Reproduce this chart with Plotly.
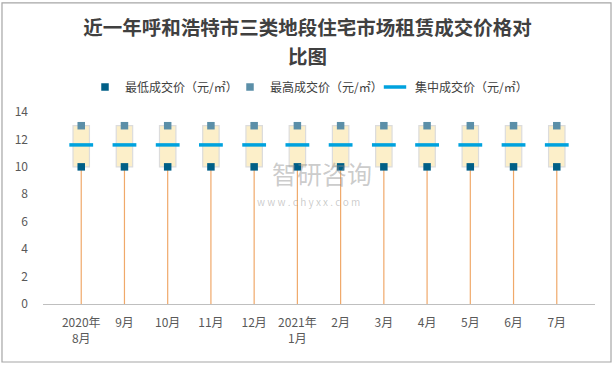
import plotly.graph_objects as go

months = ["2020年<br>8月", "9月", "10月", "11月", "12月", "2021年<br>1月",
          "2月", "3月", "4月", "5月", "6月", "7月"]
low = [10, 10, 10, 10, 10, 10, 10, 10, 10, 10, 10, 10]
high = [13, 13, 13, 13, 13, 13, 13, 13, 13, 13, 13, 13]
mid = [11.6, 11.6, 11.6, 11.6, 11.6, 11.6, 11.6, 11.6, 11.6, 11.6, 11.6, 11.6]
yticks = [0, 2, 4, 6, 8, 10, 12, 14]
title_line1 = "近一年呼和浩特市三类地段住宅市场租赁成交价格对"
title_line2 = "比图"

font = "Noto Sans CJK SC"
fig = go.Figure()

# drop lines from 0 to low
dx, dy = [], []
for m, l in zip(months, low):
    dx += [m, m, None]
    dy += [0, l, None]
fig.add_trace(go.Scatter(x=dx, y=dy, mode="lines", line=dict(color="#f0a96a", width=1.2),
                         showlegend=False, hoverinfo="skip"))

# box (high-low range)
fig.add_trace(go.Bar(x=months, y=[h - l for h, l in zip(high, low)], base=low, width=0.38,
                     marker=dict(color="#fcefc9", line=dict(color="#dcdcdc", width=1.2)),
                     showlegend=False, hoverinfo="skip"))

fig.add_trace(go.Scatter(x=months, y=low, mode="markers", name="最低成交价（元/㎡）",
                         marker=dict(symbol="square", size=7.5, color="#005f87")))
fig.add_trace(go.Scatter(x=months, y=high, mode="markers", name="最高成交价（元/㎡）",
                         marker=dict(symbol="square", size=7.5, color="#5b8fa8")))
fig.add_trace(go.Scatter(x=months, y=mid, mode="markers", name="集中成交价（元/㎡）",
                         marker=dict(symbol="line-ew", size=17,
                                     line=dict(color="#00a2de", width=3.5))))

title_font = dict(family=font, size=19.5, color="#404040", weight="bold")
fig.update_layout(
    width=615, height=365,
    margin=dict(l=43, r=20, t=112, b=61),
    paper_bgcolor="white", plot_bgcolor="white",
    font=dict(family=font, size=12, color="#595959"),
    title=dict(text=title_line1, x=0.5, xanchor="center",
               yref="container", y=1 - 28 / 365, yanchor="middle", font=title_font),
    legend=dict(orientation="h", x=(85 - 43) / 552, xanchor="left", y=1.13, yanchor="middle",
                font=dict(size=12, color="#404040"), itemwidth=30, traceorder="normal",
                entrywidth=100, entrywidthmode="pixels"),
    xaxis=dict(type="category", categoryorder="array", categoryarray=months,
               showline=True, linecolor="#bfbfbf", linewidth=1, ticks="",
               showgrid=False, tickfont=dict(size=12, color="#595959"),
               ticklabelstandoff=8),
    yaxis=dict(range=[0, 14], tickvals=yticks, showgrid=False, zeroline=False,
               showline=False, tickfont=dict(size=12, color="#595959"),
               ticklabelstandoff=14),
    bargap=0.6,
    showlegend=True,
)

fig.add_annotation(text=title_line2, xref="paper", yref="paper",
                   x=(307.5 - 43) / 552, y=(304 - 55) / 192, xanchor="center", yanchor="middle",
                   showarrow=False, font=title_font)

fig.add_shape(type="rect", xref="paper", yref="paper", x0=-0.0743, x1=1.029,
              y0=-0.302, y1=1.568, line=dict(color="#a6a6a6", width=1.2), layer="below")

fig.add_annotation(text="智研咨询", xref="paper", yref="paper",
                   x=(322 - 43) / 552, y=(304 - 173) / 192, xanchor="center", yanchor="middle",
                   showarrow=False, font=dict(size=25, color="rgba(140,140,140,0.45)"))
fig.add_annotation(text="w w w . c h y x x . c o m", xref="paper", yref="paper",
                   x=(308 - 43) / 552, y=(304 - 201) / 192, xanchor="center", yanchor="middle",
                   showarrow=False, font=dict(size=10, color="rgba(140,140,140,0.45)"))

fig.write_html("out.html", config={"displayModeBar": False},
               post_script="document.body.style.margin='0';document.body.style.overflow='hidden';")
